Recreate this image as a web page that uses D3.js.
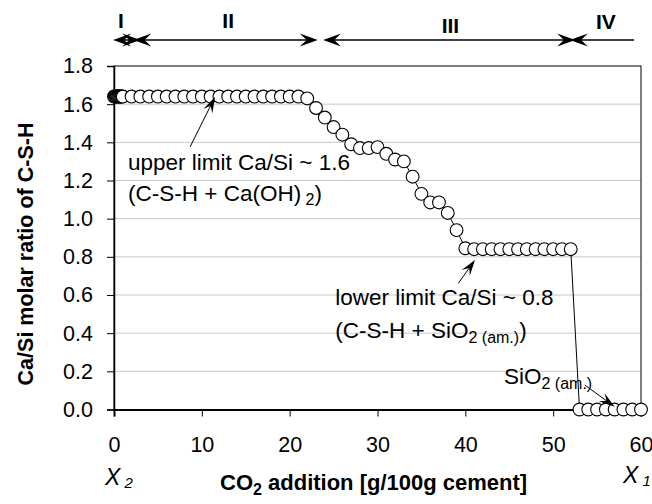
<!DOCTYPE html>
<html>
<head>
<meta charset="utf-8">
<script src="https://cdn.jsdelivr.net/npm/d3@7"></script>
<style>
body { margin:0; background:#fff; }
svg { font-family: "Liberation Sans", Arial, sans-serif; }
</style>
</head>
<body>
<script>
// CO2 addition [g/100g cement] and Ca/Si ratio of C-S-H
var co2 = [0,0.1,0.2,0.3,0.4,0.5,0.6,0.7,0.8,0.9,1,
  2,3,4,5,6,7,8,9,10,11,12,13,14,15,16,17,18,19,20,21,
  22,23,24,25,26,27,28,29,30,31,32,33,34,35,36,37,38,39,40,
  41,42,43,44,45,46,47,48,49,50,51,52,
  53,54,55,56,57,58,59,60];
var caSi = [1.64,1.64,1.64,1.64,1.64,1.64,1.64,1.64,1.64,1.64,1.64,
  1.64,1.64,1.64,1.64,1.64,1.64,1.64,1.64,1.64,1.64,1.64,1.64,1.64,1.64,1.64,1.64,1.64,1.64,1.64,1.64,
  1.63,1.58,1.53,1.48,1.44,1.39,1.37,1.37,1.375,1.34,1.31,1.30,1.22,1.13,1.085,1.085,1.03,0.94,0.845,
  0.84,0.84,0.84,0.84,0.84,0.84,0.84,0.84,0.84,0.84,0.84,0.84,
  0,0,0,0,0,0,0,0];

var xTicks = [0,10,20,30,40,50,60];
var yTicks = [0,0.2,0.4,0.6,0.8,1.0,1.2,1.4,1.6,1.8];

// regions along the top (in CO2 units)
var regionNames = ["I","II","III","IV"];
var regionFrom = [-0.1, 2.2, 23.8, 51.9];
var regionTo = [3.0, 23.2, 52.5, 59.2];
var regionLabelX = [0.8, 13, 38.3, 56];

// annotation arrows: tail -> tip, data units
var noteArrowX1 = [8.66, 39.2, 53.6];
var noteArrowY1 = [1.376, 0.661, 0.128];
var noteArrowX2 = [11.5, 41.1, 57.0];
var noteArrowY2 = [1.638, 0.784, 0.015];

var width = 652;
var height = 504;
var margin = {left:114, right:11, top:66, bottom:94.5};
var w = width - margin.left - margin.right;
var h = height - margin.top - margin.bottom;

var svg = d3.select("body").append("svg").attr("width",width).attr("height",height);
var g = svg.append("g").attr("transform","translate("+margin.left+","+margin.top+")");

var x = d3.scaleLinear().domain([0,60]).range([0,w]);
var y = d3.scaleLinear().domain([0,1.8]).range([h,0]);

// gridlines
g.selectAll("line.grid")
  .data(yTicks.filter(function(d){ return d>0 && d<1.8; }))
  .enter().append("line")
    .attr("class","grid")
    .attr("x1",0).attr("x2",w)
    .attr("y1",function(d){ return y(d); })
    .attr("y2",function(d){ return y(d); })
    .attr("stroke","#c8c8c8").attr("stroke-width",1);

// plot frame
g.append("rect").attr("x",0).attr("y",0).attr("width",w).attr("height",h)
  .attr("fill","none").attr("stroke","#000").attr("stroke-width",1);

var yAxis = g.append("g")
  .call(d3.axisLeft(y).tickValues(yTicks).tickFormat(d3.format(".1f")).tickSize(7).tickPadding(14));
yAxis.select(".domain").attr("stroke-width",1.5);
yAxis.selectAll("text").attr("font-size",21.5).attr("fill","#000").attr("font-family","Liberation Sans, Arial, sans-serif");

var xAxis = g.append("g").attr("transform","translate(0,"+h+")")
  .call(d3.axisBottom(x).tickValues(xTicks).tickFormat(d3.format("d")).tickSize(7).tickPadding(20));
xAxis.select(".domain").attr("stroke-width",2);
xAxis.selectAll("text").attr("font-size",21.5).attr("fill","#000").attr("font-family","Liberation Sans, Arial, sans-serif");

// connecting line
var pts = co2.map(function(d,i){ return [d, caSi[i]]; });
g.append("path").datum(pts)
  .attr("d", d3.line().x(function(d){ return x(d[0]); }).y(function(d){ return y(d[1]); }))
  .attr("fill","none").attr("stroke","#000").attr("stroke-width",1);

g.selectAll("circle.pt").data(pts).enter().append("circle")
  .attr("class","pt")
  .attr("cx",function(d){ return x(d[0]); })
  .attr("cy",function(d){ return y(d[1]); })
  .attr("r",6.4)
  .attr("fill","#fff").attr("stroke","#000").attr("stroke-width",1.1);

// stealth arrow head with tip at (tx,ty), pointing along angle (rad)
function head(parent, tx, ty, ang, L, W){
  parent.append("path")
    .attr("d","M0,0 L"+(-L)+","+(-W/2)+" L"+(-L*0.62)+",0 L"+(-L)+","+(W/2)+" Z")
    .attr("transform","translate("+tx+","+ty+") rotate("+(ang*180/Math.PI)+")")
    .attr("fill","#000");
}

// region arrows
var regionY = -26;
regionNames.forEach(function(name,i){
  var x1 = x(regionFrom[i]), x2 = x(regionTo[i]);
  g.append("line").attr("x1",x1+4).attr("x2",(i==3? x2 : x2-4))
    .attr("y1",regionY).attr("y2",regionY)
    .attr("stroke","#000").attr("stroke-width",1.5);
  head(g, x1, regionY, Math.PI, 18, 13);
  if (i<3) head(g, x2, regionY, 0, 18, 13);
});
var regionBase = [-38,-38,-33,-37];
g.selectAll("text.region").data(regionNames).enter().append("text")
  .attr("class","region")
  .attr("x",function(d,i){ return x(regionLabelX[i]); })
  .attr("y",function(d,i){ return regionBase[i]; })
  .attr("text-anchor","middle")
  .attr("font-size",21).attr("font-weight","bold")
  .text(function(d){ return d; });

// annotation arrows
noteArrowX1.forEach(function(d,i){
  var x1 = x(d), y1 = y(noteArrowY1[i]), x2 = x(noteArrowX2[i]), y2 = y(noteArrowY2[i]);
  var ang = Math.atan2(y2-y1, x2-x1);
  g.append("line").attr("x1",x1).attr("y1",y1)
    .attr("x2",x2-8*Math.cos(ang)).attr("y2",y2-8*Math.sin(ang))
    .attr("stroke","#000").attr("stroke-width",1);
  head(g, x2, y2, ang, 16, 10);
});

// annotation texts
var noteSize = 22.5, subSize = 16;
g.append("text").attr("x",x(1.6)).attr("y",y(1.255)).attr("font-size",noteSize)
  .text("upper limit Ca/Si ~ 1.6");
var t2 = g.append("text").attr("x",x(1.6)).attr("y",y(1.093)).attr("font-size",noteSize);
t2.append("tspan").text("(C-S-H + Ca(OH)");
t2.append("tspan").attr("font-size",subSize).attr("dy",4).text(" 2");
t2.append("tspan").attr("dy",-4).text(")");

g.append("text").attr("x",x(25.2)).attr("y",y(0.548)).attr("font-size",noteSize)
  .text("lower limit Ca/Si ~ 0.8");
var t4 = g.append("text").attr("x",x(25.2)).attr("y",y(0.375)).attr("font-size",noteSize);
t4.append("tspan").text("(C-S-H + SiO");
t4.append("tspan").attr("font-size",subSize).attr("dy",5).text("2 (am.)");
t4.append("tspan").attr("dy",-5).text(")");

var t5 = g.append("text").attr("x",x(44.4)).attr("y",y(0.134)).attr("font-size",noteSize);
t5.append("tspan").text("SiO");
t5.append("tspan").attr("font-size",subSize).attr("dy",5).text("2 (am.)");

// axis titles
svg.append("text")
  .attr("transform","translate(33,254) rotate(-90)")
  .attr("text-anchor","middle")
  .attr("font-size",21.5).attr("font-weight","bold")
  .text("Ca/Si molar ratio of C-S-H");

var xt = svg.append("text").attr("x",220).attr("y",490)
  .attr("font-size",22).attr("font-weight","bold");
xt.append("tspan").text("CO");
xt.append("tspan").attr("font-size",16).attr("dy",5).text("2");
xt.append("tspan").attr("dy",-5).text(" addition [g/100g cement]");

var x2l = svg.append("text").attr("x",105).attr("y",485).attr("font-size",23).attr("font-style","italic");
x2l.append("tspan").text("X");
x2l.append("tspan").attr("font-size",15).attr("dy",3).text(" 2");

var x1l = svg.append("text").attr("x",623).attr("y",483).attr("font-size",23).attr("font-style","italic");
x1l.append("tspan").text("X");
x1l.append("tspan").attr("font-size",15).attr("dy",3).text(" 1");
</script>
</body>
</html>
